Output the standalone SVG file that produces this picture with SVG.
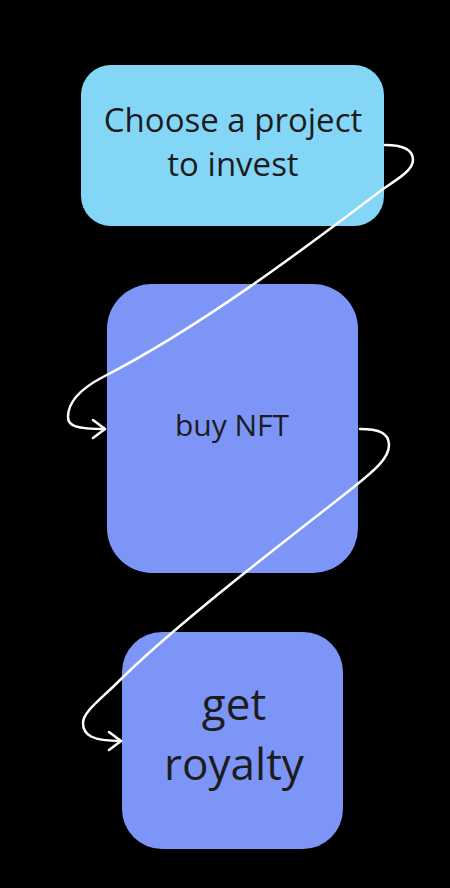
<svg xmlns="http://www.w3.org/2000/svg" width="450" height="888" viewBox="0 0 450 888">
  <defs>
    <style>
      .lbl { font-family: "Open Sans", "Noto Sans", "Liberation Sans", sans-serif; fill: #1c1c1e; text-anchor: middle; }
      .conn { fill: none; stroke: #ffffff; stroke-width: 2.5; stroke-linecap: round; }
    </style>
    <marker id="arrow" markerUnits="userSpaceOnUse" markerWidth="30" markerHeight="30" viewBox="-20 -15 30 30" refX="0" refY="0" orient="auto">
      <path d="M-12,-9 L0,0 L-12,9" fill="none" stroke="#ffffff" stroke-width="2.5" stroke-linecap="round" stroke-linejoin="round"/>
    </marker>
  </defs>
  <rect x="0" y="0" width="450" height="888" fill="#000000"/>
  <g id="node-choose">
    <rect x="81" y="65" width="303" height="161" rx="30" ry="30" fill="#83D6F6"/>
    <text class="lbl" x="233" y="132" font-size="33">Choose a project</text>
    <text class="lbl" x="233" y="176" font-size="33">to invest</text>
  </g>
  <g id="node-buy">
    <rect x="107" y="284" width="251" height="289" rx="45" ry="45" fill="#7D95F6"/>
    <text class="lbl" x="232" y="436" font-size="30">buy NFT</text>
  </g>
  <g id="node-royalty">
    <rect x="122" y="632" width="221" height="217" rx="40" ry="40" fill="#7D95F6"/>
    <text class="lbl" x="234" y="720" font-size="44">get</text>
    <text class="lbl" x="234" y="780" font-size="44">royalty</text>
  </g>
  <g id="connectors">
    <path class="conn" marker-end="url(#arrow)" d="M385,145 C400,145 413,148 413,160 C413,170 398,179 383,189 C300,252 200,327 103,377 C80,389 68,402 68,417 C68,426 76,429 105,429"/>
    <path class="conn" marker-end="url(#arrow)" d="M360,429 C377,429 389,432 389,445 C389,458 375,470 355,486 C300,530 180,620 118,682 C100,700 83,712 83,723 C83,735 92,741 121,741"/>
  </g>
</svg>
